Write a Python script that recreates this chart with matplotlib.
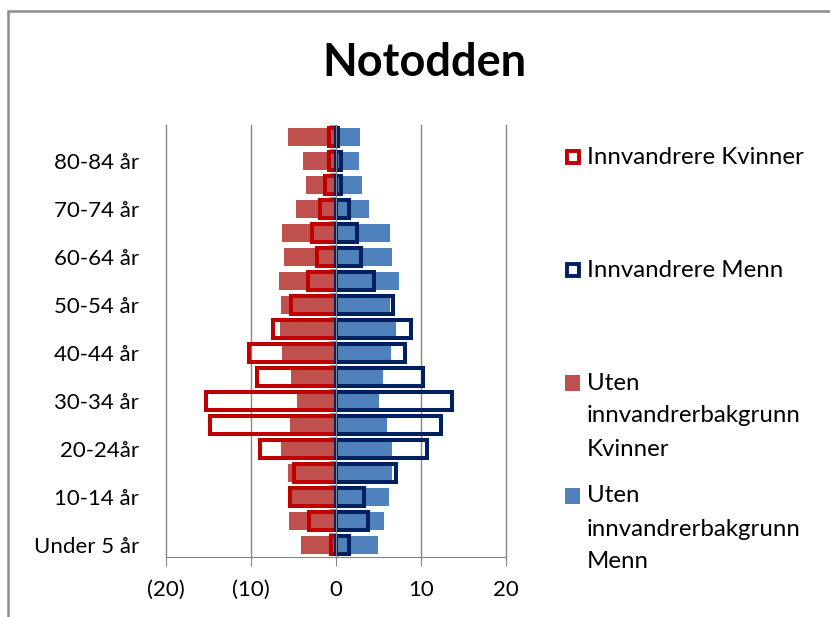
import numpy as np
import matplotlib
matplotlib.use("Agg")
import matplotlib.pyplot as plt
import matplotlib.patches as mpatches

plt.rcParams['font.family'] = ['Lato', 'DejaVu Sans']

# aldersgrupper, nederst til øverst
aldersgrupper = ['Under 5 år', '5-9 år', '10-14 år', '15-19 år', '20-24år', '25-29 år',
                 '30-34 år', '35-39 år', '40-44 år', '45-49 år', '50-54 år', '55-59 år',
                 '60-64 år', '65-69 år', '70-74 år', '75-79 år', '80-84 år', '85 år +']

# prosent (kvinner negative)
innv_kvinner = [-0.6, -3.2, -5.4, -5.0, -8.9, -14.8, -15.3, -9.3, -10.2, -7.4, -5.3, -3.3,
                -2.2, -2.8, -1.9, -1.3, -0.8, -0.8]
innv_menn = [1.5, 3.8, 3.3, 7.0, 10.7, 12.4, 13.7, 10.2, 8.1, 8.8, 6.7, 4.5,
             2.9, 2.5, 1.5, 0.6, 0.6, 0.2]
uten_kvinner = [-4.1, -5.5, -5.7, -5.7, -6.5, -5.4, -4.6, -5.3, -6.3, -6.6, -6.5, -6.7,
                -6.1, -6.4, -4.7, -3.5, -3.9, -5.6]
uten_menn = [4.9, 5.7, 6.2, 6.6, 6.6, 6.0, 5.1, 5.5, 6.5, 7.1, 6.4, 7.4,
             6.6, 6.3, 3.9, 3.1, 2.7, 2.8]

x_ticks = [-20, -10, 0, 10, 20]
x_ticklabels = ['(20)', '(10)', '0', '10', '20']

W, H = 830, 617
GRAA = '#868686'
RAD_FYLL = '#C0504D'
BLA_FYLL = '#4F81BD'
RAD_KANT = '#C00000'
BLA_KANT = '#002060'

def fx(px):
    return px / W

def fy(py):
    return 1 - py / H

fig = plt.figure(figsize=(W / 100, H / 100), dpi=100)
fig.patch.set_facecolor('white')

# ramme rundt diagrammet (beskåret nede og til høyre)
ramme = mpatches.Rectangle((fx(8), -0.1), 1.2, fy(11) + 0.1, transform=fig.transFigure,
                           fill=False, edgecolor='#8C8C8C', linewidth=1.8, clip_on=False)
fig.patches.append(ramme)

ax = fig.add_axes([fx(166), fy(557), fx(506) - fx(166), fy(125) - fy(557)])

y = np.arange(len(aldersgrupper))
h = 0.76

ax.barh(y, uten_kvinner, height=h, color=RAD_FYLL, zorder=2)
ax.barh(y, uten_menn, height=h, color=BLA_FYLL, zorder=2)
ax.barh(y, innv_kvinner, height=h, fill=False, edgecolor=RAD_KANT, linewidth=2.9, zorder=3)
ax.barh(y, innv_menn, height=h, fill=False, edgecolor=BLA_KANT, linewidth=2.9, zorder=3)

ax.set_xlim(-20, 20)
ax.set_ylim(-0.5, len(aldersgrupper) - 0.5)

ax.set_xticks(x_ticks)
ax.set_xticklabels(x_ticklabels, fontsize=16)
ax.xaxis.grid(True, color=GRAA, linewidth=1, zorder=0)
for gl in ax.get_xgridlines():
    gl.set_clip_on(False)
ax.set_axisbelow(True)

for s in ['top', 'right']:
    ax.spines[s].set_visible(False)
ax.spines['bottom'].set_color(GRAA)
ax.spines['left'].set_position(('data', 0))
ax.spines['left'].set_color(GRAA)
ax.spines['left'].set_zorder(4)

ax.tick_params(axis='x', direction='out', length=6.5, color=GRAA, pad=10)

ax.set_yticks(y)
ax.set_yticklabels([a if i % 2 == 0 else '' for i, a in enumerate(aldersgrupper)], fontsize=16)
ax.tick_params(axis='y', which='major', length=0, pad=142)
ax.set_yticks(np.arange(len(aldersgrupper) + 1) - 0.5, minor=True)
ax.tick_params(axis='y', which='minor', direction='out', length=5, color=GRAA)

fig.text(fx(424), fy(63), 'Notodden', ha='center', va='center', fontsize=32.5, fontweight='bold')

# forklaring
leg = [
    ('kant', RAD_KANT, ['Innvandrere Kvinner'], 157),
    ('kant', BLA_KANT, ['Innvandrere Menn'], 270),
    ('fyll', RAD_FYLL, ['Uten', 'innvandrerbakgrunn', 'Kvinner'], 383),
    ('fyll', BLA_FYLL, ['Uten', 'innvandrerbakgrunn', 'Menn'], 496),
]
for typ, farge, linjer, ytop in leg:
    if typ == 'kant':
        p = mpatches.Rectangle((fx(567), fy(ytop + 6)), fx(12), fy(0) - fy(12),
                               transform=fig.transFigure, fill=False,
                               edgecolor=farge, linewidth=2.8)
    else:
        p = mpatches.Rectangle((fx(565), fy(ytop + 7.5)), fx(15), fy(0) - fy(15),
                               transform=fig.transFigure, facecolor=farge, edgecolor='none')
    fig.patches.append(p)
    for k, tekst in enumerate(linjer):
        fig.text(fx(587), fy(ytop + 33 * k), tekst, ha='left', va='center', fontsize=17.3)

fig.savefig('out.png', dpi=100, facecolor='white')
